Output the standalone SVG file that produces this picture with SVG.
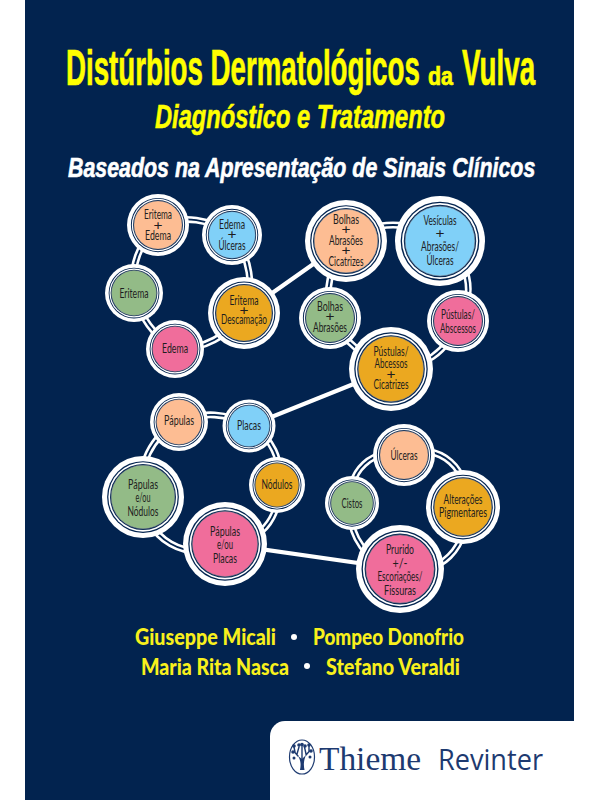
<svg xmlns="http://www.w3.org/2000/svg" width="600" height="800" viewBox="0 0 600 800">
<style>
.bg{fill:#02234f}
.dbl{fill:none;stroke:#fff;stroke-width:7}
.dbl2{fill:none;stroke:#02234f;stroke-width:1.8}
.single{fill:none;stroke:#fff;stroke-width:4.2}
.peach{fill:#fdbd93}.blue{fill:#80d0f8}.green{fill:#93bb87}.pink{fill:#f06d9b}.orange{fill:#eba820}
.t{font-family:"Lato","Liberation Sans",sans-serif;font-size:12.5px;fill:#1e1e1e;text-anchor:middle}
.title{font-family:"Liberation Sans",Arial,sans-serif;font-weight:700;fill:#ffff00;stroke:#ffff00;stroke-width:.7}
.sub{font-family:"Liberation Sans",Arial,sans-serif;font-weight:700;font-style:italic;stroke-width:.6}
.auth{font-family:"Lato","Liberation Sans",sans-serif;font-weight:900;font-size:22px;fill:#f8f01c}
.logo{fill:none;stroke:#1d3a70;stroke-linecap:round}
</style>
<defs>
<g id="ring">
<circle r="1" fill="#fff"/>
<circle r=".875" fill="#02234f"/>
<circle r=".845" fill="#fff"/>
<circle r=".805" fill="#02234f"/>
<circle r=".775" stroke="#8a8f99" stroke-width=".012"/>
</g>
<path id="arcs" d="M158 225A75 75 0 0 1 232 235A76 76 0 0 1 244 313A80 80 0 0 1 175 349A90 90 0 0 1 134 293A76 76 0 0 1 158 225Z M346 241A77 77 0 0 1 440 241A55 55 0 0 1 458 321A67 67 0 0 1 391 369A130 130 0 0 1 330 318A100 100 0 0 1 346 241Z M179 422A72 72 0 0 1 249 426A50 50 0 0 1 277 485A50 50 0 0 1 225 544A55 55 0 0 1 143 497A68 68 0 0 1 179 422Z M404 455A43 43 0 0 1 463 507A51 51 0 0 1 400 569A56 56 0 0 1 352 503A41 41 0 0 1 404 455Z"/>
</defs>
<rect x="25" y="0" width="549" height="800" class="bg"/>
<text class="title" transform="translate(66 85) scale(.58 1)" font-size="50" textLength="610" lengthAdjust="spacingAndGlyphs">Distúrbios Dermatológicos</text>
<text class="title" x="428" y="85" font-size="25" textLength="25" lengthAdjust="spacingAndGlyphs">da</text>
<text class="title" transform="translate(462 85) scale(.58 1)" font-size="50" textLength="126" lengthAdjust="spacingAndGlyphs">Vulva</text>
<text class="sub" x="155" y="128" font-size="34" fill="#ffff00" stroke="#ffff00" textLength="290" lengthAdjust="spacingAndGlyphs">Diagnóstico e Tratamento</text>
<text class="sub" transform="translate(68 177) scale(.88 1)" font-size="27" fill="#ffffff" stroke="#ffffff" textLength="531" lengthAdjust="spacingAndGlyphs">Baseados na Apresentação de Sinais Clínicos</text>
<g id="connectors">
<use href="#arcs" class="dbl"/>
<use href="#arcs" class="dbl2"/>
<path class="single" d="M244 313L346 241M391 369L249 426M225 544L400 569"/>
</g>
<g id="n-eritema-edema"><use href="#ring" class="peach" transform="translate(158 225) scale(31)"/><text class="t" x="158" y="219" textLength="28" lengthAdjust="spacingAndGlyphs">Eritema</text><text class="t" x="158" y="230" textLength="9" lengthAdjust="spacingAndGlyphs">+</text><text class="t" x="158" y="240" textLength="26" lengthAdjust="spacingAndGlyphs">Edema</text></g>
<g id="n-edema-ulceras"><use href="#ring" class="blue" transform="translate(232 235) scale(30)"/><text class="t" x="232" y="229" textLength="26" lengthAdjust="spacingAndGlyphs">Edema</text><text class="t" x="232" y="239" textLength="9" lengthAdjust="spacingAndGlyphs">+</text><text class="t" x="232" y="250" textLength="27" lengthAdjust="spacingAndGlyphs">Úlceras</text></g>
<g id="n-eritema"><use href="#ring" class="green" transform="translate(134 293) scale(29)"/><text class="t" x="134" y="298" textLength="29" lengthAdjust="spacingAndGlyphs">Eritema</text></g>
<g id="n-eritema-descamacao"><use href="#ring" class="orange" transform="translate(244 313) scale(36)"/><text class="t" x="244" y="305" textLength="29" lengthAdjust="spacingAndGlyphs">Eritema</text><text class="t" x="244" y="315" textLength="9" lengthAdjust="spacingAndGlyphs">+</text><text class="t" x="244" y="324" textLength="46" lengthAdjust="spacingAndGlyphs">Descamação</text></g>
<g id="n-edema"><use href="#ring" class="pink" transform="translate(175 349) scale(29)"/><text class="t" x="175" y="353" textLength="26" lengthAdjust="spacingAndGlyphs">Edema</text></g>
<g id="n-bolhas-cicatrizes"><use href="#ring" class="peach" transform="translate(346 241) scale(41)"/><text class="t" x="346" y="224" textLength="26" lengthAdjust="spacingAndGlyphs">Bolhas</text><text class="t" x="346" y="234" textLength="9" lengthAdjust="spacingAndGlyphs">+</text><text class="t" x="346" y="245" textLength="34" lengthAdjust="spacingAndGlyphs">Abrasões</text><text class="t" x="346" y="255" textLength="9" lengthAdjust="spacingAndGlyphs">+</text><text class="t" x="346" y="266" textLength="35" lengthAdjust="spacingAndGlyphs">Cicatrizes</text></g>
<g id="n-vesiculas"><use href="#ring" class="blue" transform="translate(440 241) scale(45)"/><text class="t" x="440" y="225" textLength="33" lengthAdjust="spacingAndGlyphs">Vesículas</text><text class="t" x="440" y="238" textLength="9" lengthAdjust="spacingAndGlyphs">+</text><text class="t" x="440" y="251" textLength="38" lengthAdjust="spacingAndGlyphs">Abrasões/</text><text class="t" x="440" y="265" textLength="27" lengthAdjust="spacingAndGlyphs">Úlceras</text></g>
<g id="n-bolhas-abrasoes"><use href="#ring" class="green" transform="translate(330 318) scale(31)"/><text class="t" x="330" y="311" textLength="26" lengthAdjust="spacingAndGlyphs">Bolhas</text><text class="t" x="330" y="321" textLength="9" lengthAdjust="spacingAndGlyphs">+</text><text class="t" x="330" y="332" textLength="34" lengthAdjust="spacingAndGlyphs">Abrasões</text></g>
<g id="n-pustulas-abscessos"><use href="#ring" class="pink" transform="translate(458 321) scale(31)"/><text class="t" x="458" y="319" textLength="34" lengthAdjust="spacingAndGlyphs">Pústulas/</text><text class="t" x="458" y="333" textLength="36" lengthAdjust="spacingAndGlyphs">Abscessos</text></g>
<g id="n-pustulas-cicatrizes"><use href="#ring" class="orange" transform="translate(391 369) scale(42)"/><text class="t" x="391" y="356" textLength="35" lengthAdjust="spacingAndGlyphs">Pústulas/</text><text class="t" x="391" y="368" textLength="33" lengthAdjust="spacingAndGlyphs">Abcessos</text><text class="t" x="391" y="379" textLength="9" lengthAdjust="spacingAndGlyphs">+</text><text class="t" x="391" y="389" textLength="35" lengthAdjust="spacingAndGlyphs">Cicatrizes</text></g>
<g id="n-papulas"><use href="#ring" class="peach" transform="translate(179 422) scale(29)"/><text class="t" x="179" y="425" textLength="30" lengthAdjust="spacingAndGlyphs">Pápulas</text></g>
<g id="n-placas"><use href="#ring" class="blue" transform="translate(249 426) scale(26.5)"/><text class="t" x="249" y="430" textLength="24" lengthAdjust="spacingAndGlyphs">Placas</text></g>
<g id="n-nodulos"><use href="#ring" class="orange" transform="translate(277 485) scale(28)"/><text class="t" x="277" y="489" textLength="31" lengthAdjust="spacingAndGlyphs">Nódulos</text></g>
<g id="n-papulas-nodulos"><use href="#ring" class="green" transform="translate(143 497) scale(41)"/><text class="t" x="143" y="489" textLength="30" lengthAdjust="spacingAndGlyphs">Pápulas</text><text class="t" x="143" y="502" textLength="15" lengthAdjust="spacingAndGlyphs">e/ou</text><text class="t" x="143" y="516" textLength="31" lengthAdjust="spacingAndGlyphs">Nódulos</text></g>
<g id="n-papulas-placas"><use href="#ring" class="pink" transform="translate(225 544) scale(42)"/><text class="t" x="225" y="536" textLength="30" lengthAdjust="spacingAndGlyphs">Pápulas</text><text class="t" x="225" y="549" textLength="16" lengthAdjust="spacingAndGlyphs">e/ou</text><text class="t" x="225" y="563" textLength="24" lengthAdjust="spacingAndGlyphs">Placas</text></g>
<g id="n-ulceras"><use href="#ring" class="peach" transform="translate(404 455) scale(31)"/><text class="t" x="404" y="460" textLength="27" lengthAdjust="spacingAndGlyphs">Úlceras</text></g>
<g id="n-cistos"><use href="#ring" class="green" transform="translate(352 503) scale(27)"/><text class="t" x="352" y="508" textLength="21" lengthAdjust="spacingAndGlyphs">Cistos</text></g>
<g id="n-alteracoes"><use href="#ring" class="orange" transform="translate(463 507) scale(37)"/><text class="t" x="463" y="504" textLength="39" lengthAdjust="spacingAndGlyphs">Alterações</text><text class="t" x="463" y="517" textLength="48" lengthAdjust="spacingAndGlyphs">Pigmentares</text></g>
<g id="n-prurido"><use href="#ring" class="pink" transform="translate(400 569) scale(44)"/><text class="t" x="400" y="554" textLength="28" lengthAdjust="spacingAndGlyphs">Prurido</text><text class="t" x="400" y="568" textLength="15" lengthAdjust="spacingAndGlyphs">+/-</text><text class="t" x="400" y="581" textLength="45" lengthAdjust="spacingAndGlyphs">Escoriações/</text><text class="t" x="400" y="595" textLength="32" lengthAdjust="spacingAndGlyphs">Fissuras</text></g>
<text class="auth" x="135" y="645" textLength="141" lengthAdjust="spacingAndGlyphs">Giuseppe Micali</text>
<circle cx="294" cy="637" r="3" fill="#fff"/>
<text class="auth" x="313" y="645" textLength="151" lengthAdjust="spacingAndGlyphs">Pompeo Donofrio</text>
<text class="auth" x="141" y="675" textLength="148" lengthAdjust="spacingAndGlyphs">Maria Rita Nasca</text>
<circle cx="307" cy="666" r="3" fill="#fff"/>
<text class="auth" x="326" y="675" textLength="134" lengthAdjust="spacingAndGlyphs">Stefano Veraldi</text>
<path d="M270 800V736A15 15 0 0 1 285 721H574V800Z" fill="#fff"/>
<g id="logo">
<ellipse class="logo" cx="302" cy="757" rx="12.500" ry="17" stroke-width="1.2"/>
<path d="M300 770C301 765 301 761 298 756L302 759L306 755C303.500 761 303.500 765 304.500 770Z" fill="#1d3a70"/>
<path class="logo" stroke-width="1.400" d="M298 756L294.500 752M295 752L294 747M297 754L299 747M302 759L302 746M306 755L309.500 751M309 751L309 746M306 754L304.500 747"/>
<g fill="#1d3a70"><circle cx="294" cy="746" r="1.800"/><circle cx="299" cy="745" r="1.800"/><circle cx="302" cy="744.500" r="1.800"/><circle cx="305" cy="746" r="1.800"/><circle cx="309" cy="745" r="1.800"/><circle cx="293" cy="752" r="1.800"/><circle cx="311" cy="751" r="1.800"/><circle cx="294" cy="758" r="1.500"/><circle cx="310" cy="757" r="1.500"/></g>
</g>
<text x="319" y="770" font-family="Liberation Serif,serif" font-size="34" fill="#1d3a70" textLength="102" lengthAdjust="spacingAndGlyphs">Thieme</text>
<text x="438" y="770" font-family="Open Sans,sans-serif" font-size="29" fill="#1d3a70" textLength="105" lengthAdjust="spacingAndGlyphs">Revinter</text>
</svg>
